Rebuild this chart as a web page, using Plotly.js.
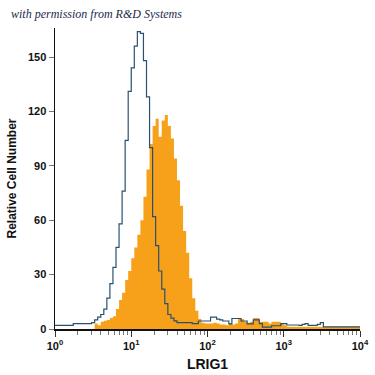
<!DOCTYPE html>
<html>
<head>
<meta charset="utf-8">
<script src="https://cdn.plot.ly/plotly-3.0.1.min.js"></script>
<style>html,body{margin:0;padding:0;background:#fff;}#chart{width:375px;height:375px;}</style>
</head>
<body>
<div id="chart"></div>
<script>
// Histogram bins: log10 width 0.04 starting at 10^0
const binStartLog = 0;
const binWidthLog = 0.04;
// Isotype control (blue outline), counts per bin
const controlCounts = [2,2,2,2,2,2,3,3,3,3,3,3,3.5,5,6.5,8,11,17,25,34,45,58,76,104,131,144,156,164,163,148,128,100,62,46,32,22,14,8,6,4.5,3.5,3.5,3.5,3.5,3.5,3,3,4.4,4.4,4.4,4.4,6.5,6.5,5.5,5,4.4,4.4,2.8,5.8,5.8,5.8,4.4,4.4,2.8,2.8,5,5,3,1,1,1,1.8,1.8,1.8,3,3,2.2,2.2,2.2,2.2,2,2.5,3,2,2,2,2.5,3.5,1.2,1.2,1.2,1.2,1.2,1.2,1.2,1.2,1.2,1.2,1.2,1.2];
// LRIG1 antibody (orange filled), counts per bin
const lrig1Counts = [0,0,0,0,0,0,0,0,0,0,0,0,0,3,2,4,4.5,5,6,7,11,16,20,27,32,39,45,52,60,73,88,102,112,116,106,115,118,112,105,94,82,68,54,42,28,17,10,5.5,3.5,3,3,3,3.5,3,2.5,2.5,2,3,2.5,3,5.5,5.5,4,3.5,4,6,6,4,4,4,3,4,4,4,3,2,1.2,1.2,1.2,1.2,1.2,1.2,1.2,1.2,1.2,1.2,1.2,1.2,1.2,1.2,1.2,1.2,1.2,1.2,1.2,1.2,1.2,1.2,1.2,1.2];
const yTickVals = [0,30,60,90,120,150];
const xTickVals = [1,10,100,1000,10000];
const xTickText = ['10<sup>0</sup>','10<sup>1</sup>','10<sup>2</sup>','10<sup>3</sup>','10<sup>4</sup>'];
const xTitle = 'LRIG1';
const yTitle = 'Relative Cell Number';
const credit = 'with permission from R&amp;D Systems';

function stepXY(counts){
  const xs = [], ys = [];
  counts.forEach((c,i)=>{ xs.push(Math.pow(10, binStartLog + i*binWidthLog)); ys.push(c); });
  xs.push(Math.pow(10, binStartLog + counts.length*binWidthLog));
  ys.push(counts[counts.length-1]);
  return {xs, ys};
}
const minorVals = [];
for (let d=0; d<4; d++) for (let k=2; k<=9; k++) minorVals.push(k*Math.pow(10,d));

const o = stepXY(lrig1Counts);
const b = stepXY(controlCounts);
const traces = [
  {x:o.xs, y:o.ys, type:'scatter', mode:'lines', line:{shape:'hv', width:0, color:'#F7A11A'}, fill:'tozeroy', fillcolor:'#F7A11A', hoverinfo:'skip'},
  {x:b.xs, y:b.ys, type:'scatter', mode:'lines', line:{shape:'hv', width:1.2, color:'#2a5070'}, hoverinfo:'skip'}
];
const font = {family:'"Liberation Sans Narrow", "Liberation Sans", Arial, sans-serif', size:11, color:'#111'};
const layout = {
  width:375, height:375,
  margin:{l:55, r:15, t:28, b:46},
  paper_bgcolor:'#fff', plot_bgcolor:'#fff',
  showlegend:false,
  font:font,
  xaxis:{type:'log', range:[0,4], tickvals:xTickVals, ticktext:xTickText, ticks:'outside', ticklen:6, tickcolor:'#333', tickwidth:1,
    showgrid:false, zeroline:false, showline:true, linecolor:'#111', linewidth:1.5,
    tickfont:{family:font.family, size:11, color:'#111', weight:'bold'},
    minor:{tickvals:minorVals, ticks:'outside', ticklen:4, tickcolor:'#777', tickwidth:1, showgrid:false},
    title:{text:'<b>'+xTitle+'</b>', font:{family:font.family, size:14, color:'#111'}, standoff:8}},
  yaxis:{range:[0,166], tickvals:yTickVals, ticks:'outside', ticklen:5, tickcolor:'#777', tickwidth:1,
    showgrid:false, zeroline:false, showline:true, linecolor:'#111', linewidth:1.5,
    tickfont:{family:font.family, size:11, color:'#111', weight:'bold'},
    title:{text:'<b>'+yTitle+'</b>', font:{family:font.family, size:12, color:'#111'}, standoff:8}},
  annotations:[{text:'<i>'+credit+'</i>', xref:'paper', yref:'paper', x:-0.15, y:1.015, xanchor:'left', yanchor:'bottom', showarrow:false,
    font:{family:'"Liberation Serif", serif', size:12, color:'#1a2a4a'}}]
};
Plotly.newPlot('chart', traces, layout, {staticPlot:true, displayModeBar:false});
</script>
</body>
</html>
